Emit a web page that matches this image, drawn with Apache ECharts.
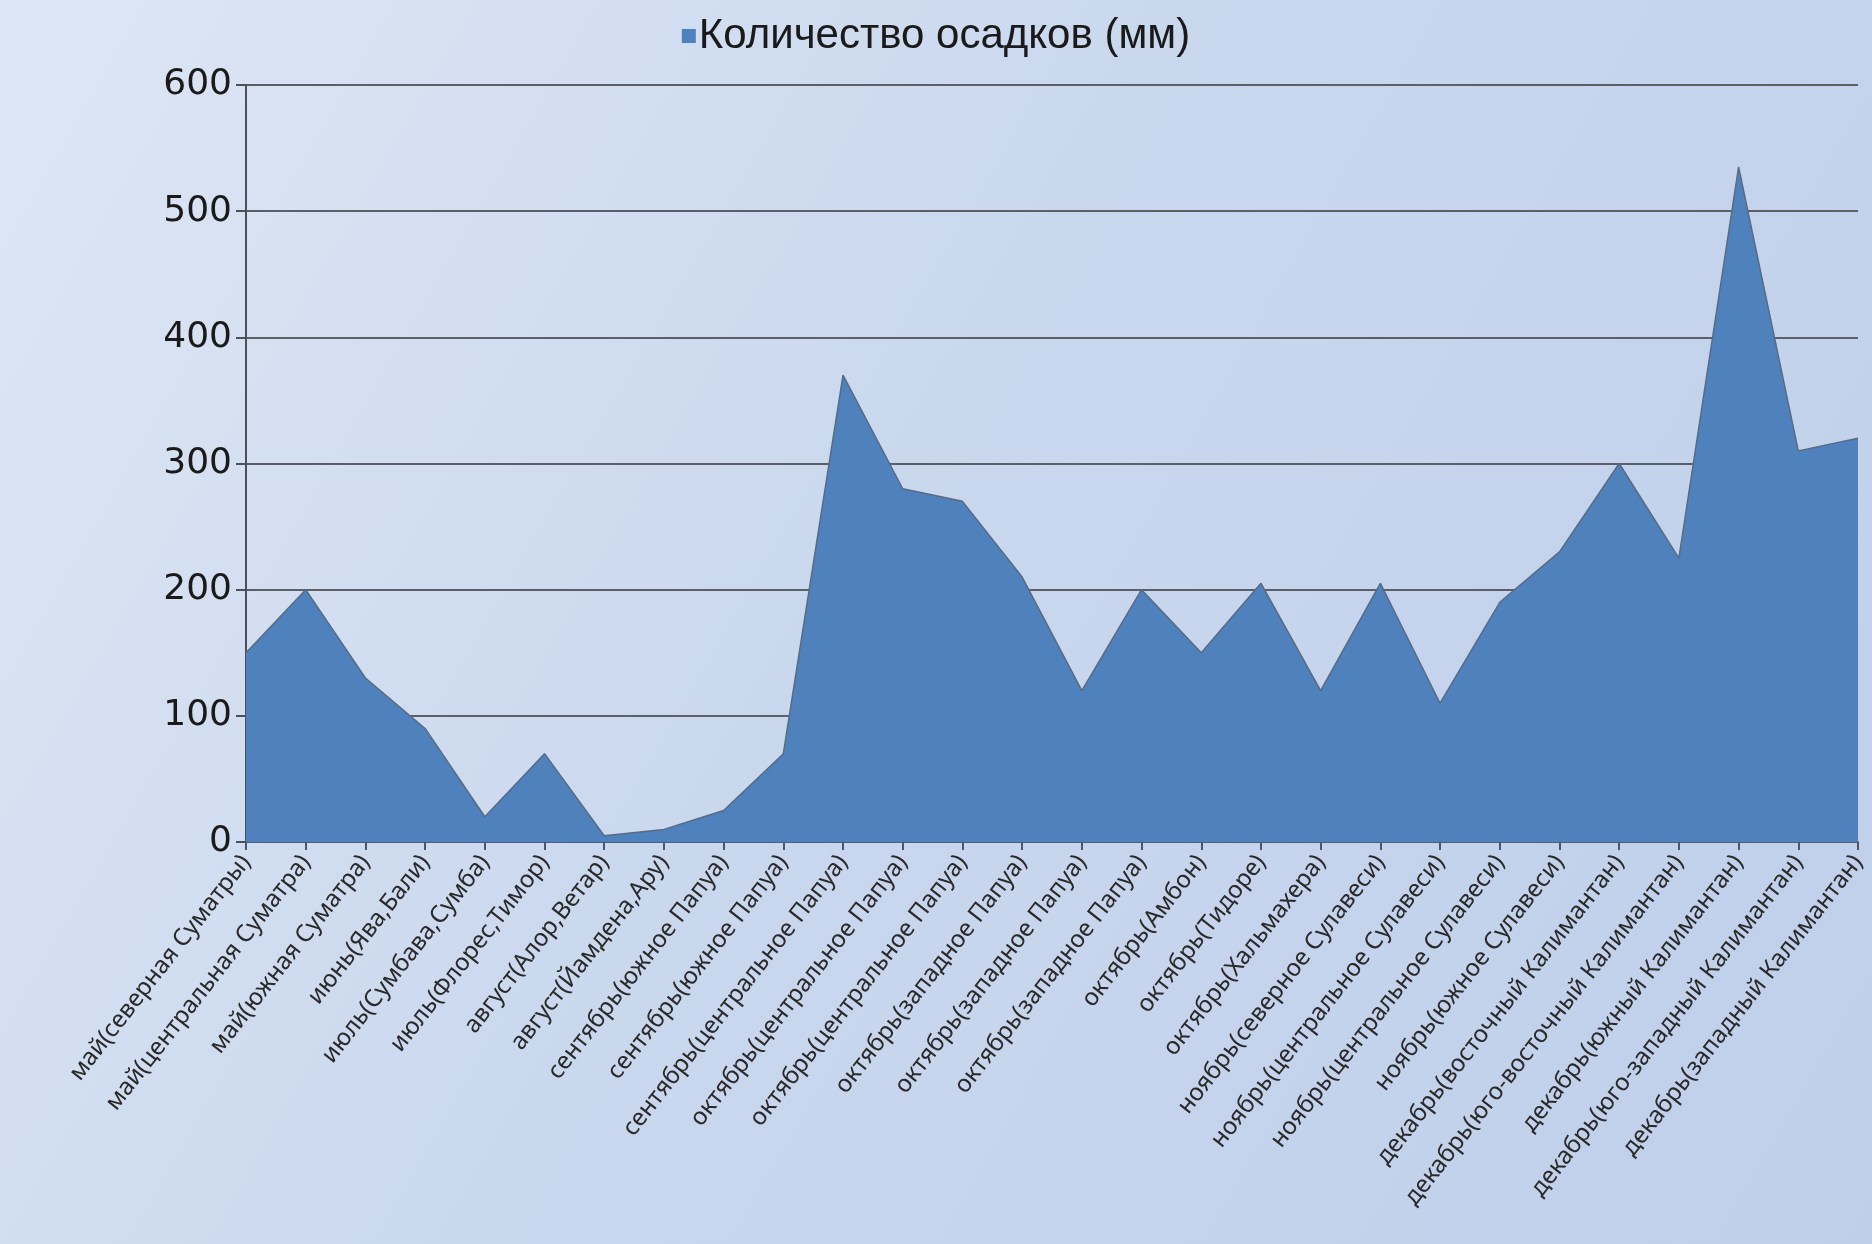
<!DOCTYPE html>
<html>
<head>
<meta charset="utf-8">
<script src="https://cdn.jsdelivr.net/npm/echarts@6/dist/echarts.min.js"></script>
<style>
  html, body { margin: 0; padding: 0; }
  #chart {
    width: 1872px;
    height: 1244px;
    background: linear-gradient(120deg, #dde6f4 0%, #cad8ee 45%, #bfcfea 100%);
  }
</style>
</head>
<body>
<div id="chart"></div>
<script>
const categories = [
  "май(северная Суматры)",
  "май(центральная Суматра)",
  "май(южная Суматра)",
  "июнь(Ява,Бали)",
  "июль(Сумбава,Сумба)",
  "июль(Флорес,Тимор)",
  "август(Алор,Ветар)",
  "август(Йамдена,Ару)",
  "сентябрь(южное Папуа)",
  "сентябрь(южное Папуа)",
  "сентябрь(центральное Папуа)",
  "октябрь(центральное Папуа)",
  "октябрь(центральное Папуа)",
  "октябрь(западное Папуа)",
  "октябрь(западное Папуа)",
  "октябрь(западное Папуа)",
  "октябрь(Амбон)",
  "октябрь(Тидоре)",
  "октябрь(Хальмахера)",
  "ноябрь(северное Сулавеси)",
  "ноябрь(центральное Сулавеси)",
  "ноябрь(центральное Сулавеси)",
  "ноябрь(южное Сулавеси)",
  "декабрь(восточный Калимантан)",
  "декабрь(юго-восточный Калимантан)",
  "декабрь(южный Калимантан)",
  "декабрь(юго-западный Калимантан)",
  "декабрь(западный Калимантан)"
]

const rainfall = [
  150, 200, 130, 90, 20, 70, 5, 10, 25, 70,
  370, 280, 270, 210, 120, 200, 150, 205, 120, 205,
  110, 190, 230, 300, 225, 535, 310, 320
]

const seriesName = "Количество осадков (мм)"

const chart = echarts.init(document.getElementById("chart"), null, { renderer: "canvas" })

chart.setOption({
  backgroundColor: "transparent",
  animation: false,
  legend: {
    top: 10,
    left: "center",
    itemWidth: 14,
    itemHeight: 14,
    itemGap: 4,
    icon: "rect",
    textStyle: { fontFamily: "Liberation Sans", fontSize: 42, color: "#1a1a1a", padding: [0, 0, 0, -2] },
    data: [seriesName]
  },
  grid: { left: 246, right: 14, top: 85, bottom: 402 },
  xAxis: {
    type: "category",
    data: categories,
    boundaryGap: false,
    axisLine: { lineStyle: { color: "#4a5f82", width: 2 } },
    axisTick: { alignWithLabel: true, length: 8, lineStyle: { color: "#4a5670", width: 2 } },
    axisLabel: {
      rotate: 52,
      interval: 0,
      margin: 16,
      fontFamily: "Noto Sans",
      fontSize: 24,
      color: "#2a2a2a"
    }
  },
  yAxis: {
    type: "value",
    min: 0,
    max: 600,
    interval: 100,
    axisLine: { show: true, lineStyle: { color: "#4a4f5a", width: 2 } },
    axisTick: { show: true, length: 10, lineStyle: { color: "#4a4f5a", width: 2 } },
    axisLabel: { fontFamily: "DejaVu Sans", fontSize: 36, color: "#1a1a1a", margin: 14 },
    splitLine: { lineStyle: { color: "#5a5f68", width: 2 } }
  },
  series: [
    {
      name: seriesName,
      type: "line",
      data: rainfall,
      symbol: "none",
      lineStyle: { color: "#5a6a80", width: 1.5 },
      itemStyle: { color: "#4f81bd" },
      areaStyle: { color: "#4f81bd", opacity: 1 }
    }
  ]
})
</script>
</body>
</html>
